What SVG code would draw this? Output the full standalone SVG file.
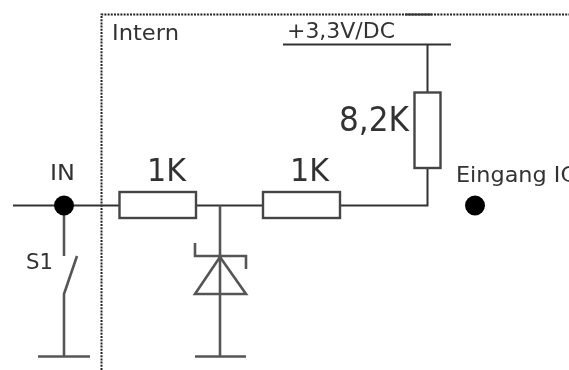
<svg xmlns="http://www.w3.org/2000/svg" width="569" height="370" viewBox="0 0 569 370">
<style>
.w{fill:none;stroke:#333;stroke-width:2}
.g{fill:none;stroke:#555;stroke-width:2.6}
.r{fill:#fff;stroke:#444;stroke-width:2.4}
.f{fill:none;stroke:#222;stroke-width:2;stroke-dasharray:2 1.2}
.d{fill:#000}
text{font-family:"DejaVu Sans","Liberation Sans",sans-serif;fill:#333}
</style>
<defs><filter id="b" x="-5%" y="-5%" width="110%" height="110%"><feGaussianBlur stdDeviation="0.6"/></filter></defs>
<rect width="569" height="370" fill="#fff"/>
<g filter="url(#b)">
<g id="connectors">
<path class="f" d="M101.500 370V14.500H569"/>
<path class="w" d="M405 14.500H432"/>
<path class="w" d="M13 205.500H119"/>
<path class="w" d="M196 205.500H263"/>
<path class="w" d="M340 205.500H427.500V168"/>
<path class="w" d="M427.500 44.500V92"/>
<path class="w" d="M283 44.500H451"/>
<path class="g" d="M64 205.500V256"/>
<path class="g" d="M77 256L64 294V356"/>
<path class="g" d="M38 356.500H90"/>
<path class="g" d="M220 205.500V356"/>
<path class="g" d="M195 356.500H246"/>
</g>
<g id="R1"><rect class="r" x="119.500" y="192" width="76.500" height="26"/><text x="147" y="180.500" font-size="32" textLength="39" lengthAdjust="spacingAndGlyphs">1K</text></g>
<g id="R2"><rect class="r" x="263" y="192" width="77" height="26"/><text x="290" y="180.500" font-size="32" textLength="39" lengthAdjust="spacingAndGlyphs">1K</text></g>
<g id="R3"><rect class="r" x="414.500" y="92.500" width="26" height="75.500"/><text x="339" y="131" font-size="33" textLength="70" lengthAdjust="spacingAndGlyphs">8,2K</text></g>
<g id="Z1"><path class="g" d="M195 243V256H246V269M220 257L195 294H246Z"/></g>
<g id="IN"><circle class="d" cx="64" cy="205.500" r="10"/><text x="50" y="180" font-size="22" textLength="25" lengthAdjust="spacingAndGlyphs">IN</text></g>
<g id="S1"><text x="26" y="269" font-size="22" textLength="27" lengthAdjust="spacingAndGlyphs">S1</text></g>
<g id="EingangIC"><circle class="d" cx="475" cy="205.500" r="10"/><text x="456" y="182" font-size="22" textLength="120" lengthAdjust="spacingAndGlyphs">Eingang IC</text></g>
<g id="Intern"><text x="112" y="39.500" font-size="22" textLength="67" lengthAdjust="spacingAndGlyphs">Intern</text></g>
<g id="VCC"><text x="287" y="38" font-size="22" textLength="108" lengthAdjust="spacingAndGlyphs">+3,3V/DC</text></g>
</g>
</svg>
